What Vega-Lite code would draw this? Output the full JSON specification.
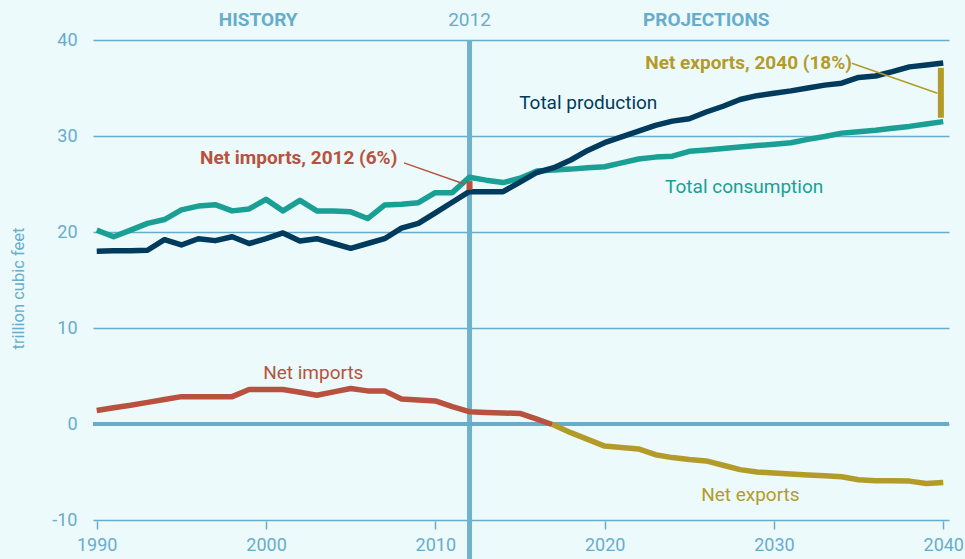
{
  "$schema": "https://vega.github.io/schema/vega-lite/v6.json",
  "width": 856,
  "height": 480,
  "autosize": "none",
  "padding": {"left": 93, "top": 40, "right": 16, "bottom": 39},
  "background": "#ecfafb",
  "config": {
    "view": {"stroke": null},
    "font": "Roboto",
    "axis": {"labelFont": "Roboto", "titleFont": "Roboto", "labelColor": "#68accb", "titleColor": "#68accb"}
  },
  "datasets": {
    "series": [
      {"year": 1990, "value": 20.2, "series": "Total consumption"},
      {"year": 1991, "value": 19.5, "series": "Total consumption"},
      {"year": 1992, "value": 20.2, "series": "Total consumption"},
      {"year": 1993, "value": 20.9, "series": "Total consumption"},
      {"year": 1994, "value": 21.3, "series": "Total consumption"},
      {"year": 1995, "value": 22.3, "series": "Total consumption"},
      {"year": 1996, "value": 22.7, "series": "Total consumption"},
      {"year": 1997, "value": 22.85, "series": "Total consumption"},
      {"year": 1998, "value": 22.2, "series": "Total consumption"},
      {"year": 1999, "value": 22.4, "series": "Total consumption"},
      {"year": 2000, "value": 23.4, "series": "Total consumption"},
      {"year": 2001, "value": 22.2, "series": "Total consumption"},
      {"year": 2002, "value": 23.3, "series": "Total consumption"},
      {"year": 2003, "value": 22.2, "series": "Total consumption"},
      {"year": 2004, "value": 22.2, "series": "Total consumption"},
      {"year": 2005, "value": 22.1, "series": "Total consumption"},
      {"year": 2006, "value": 21.4, "series": "Total consumption"},
      {"year": 2007, "value": 22.8, "series": "Total consumption"},
      {"year": 2008, "value": 22.9, "series": "Total consumption"},
      {"year": 2009, "value": 23.05, "series": "Total consumption"},
      {"year": 2010, "value": 24.1, "series": "Total consumption"},
      {"year": 2011, "value": 24.1, "series": "Total consumption"},
      {"year": 2012, "value": 25.7, "series": "Total consumption"},
      {"year": 2013, "value": 25.4, "series": "Total consumption"},
      {"year": 2014, "value": 25.15, "series": "Total consumption"},
      {"year": 2015, "value": 25.6, "series": "Total consumption"},
      {"year": 2016, "value": 26.35, "series": "Total consumption"},
      {"year": 2017, "value": 26.45, "series": "Total consumption"},
      {"year": 2018, "value": 26.55, "series": "Total consumption"},
      {"year": 2019, "value": 26.7, "series": "Total consumption"},
      {"year": 2020, "value": 26.8, "series": "Total consumption"},
      {"year": 2021, "value": 27.2, "series": "Total consumption"},
      {"year": 2022, "value": 27.6, "series": "Total consumption"},
      {"year": 2023, "value": 27.8, "series": "Total consumption"},
      {"year": 2024, "value": 27.9, "series": "Total consumption"},
      {"year": 2025, "value": 28.4, "series": "Total consumption"},
      {"year": 2026, "value": 28.55, "series": "Total consumption"},
      {"year": 2027, "value": 28.7, "series": "Total consumption"},
      {"year": 2028, "value": 28.85, "series": "Total consumption"},
      {"year": 2029, "value": 29.0, "series": "Total consumption"},
      {"year": 2030, "value": 29.15, "series": "Total consumption"},
      {"year": 2031, "value": 29.3, "series": "Total consumption"},
      {"year": 2032, "value": 29.65, "series": "Total consumption"},
      {"year": 2033, "value": 29.95, "series": "Total consumption"},
      {"year": 2034, "value": 30.3, "series": "Total consumption"},
      {"year": 2035, "value": 30.45, "series": "Total consumption"},
      {"year": 2036, "value": 30.6, "series": "Total consumption"},
      {"year": 2037, "value": 30.8, "series": "Total consumption"},
      {"year": 2038, "value": 31.0, "series": "Total consumption"},
      {"year": 2039, "value": 31.25, "series": "Total consumption"},
      {"year": 2040, "value": 31.5, "series": "Total consumption"},

      {"year": 1990, "value": 18.0, "series": "Total production"},
      {"year": 1991, "value": 18.05, "series": "Total production"},
      {"year": 1992, "value": 18.05, "series": "Total production"},
      {"year": 1993, "value": 18.1, "series": "Total production"},
      {"year": 1994, "value": 19.2, "series": "Total production"},
      {"year": 1995, "value": 18.65, "series": "Total production"},
      {"year": 1996, "value": 19.3, "series": "Total production"},
      {"year": 1997, "value": 19.1, "series": "Total production"},
      {"year": 1998, "value": 19.5, "series": "Total production"},
      {"year": 1999, "value": 18.8, "series": "Total production"},
      {"year": 2000, "value": 19.3, "series": "Total production"},
      {"year": 2001, "value": 19.9, "series": "Total production"},
      {"year": 2002, "value": 19.06, "series": "Total production"},
      {"year": 2003, "value": 19.3, "series": "Total production"},
      {"year": 2004, "value": 18.8, "series": "Total production"},
      {"year": 2005, "value": 18.3, "series": "Total production"},
      {"year": 2006, "value": 18.8, "series": "Total production"},
      {"year": 2007, "value": 19.3, "series": "Total production"},
      {"year": 2008, "value": 20.4, "series": "Total production"},
      {"year": 2009, "value": 20.9, "series": "Total production"},
      {"year": 2010, "value": 22.0, "series": "Total production"},
      {"year": 2011, "value": 23.1, "series": "Total production"},
      {"year": 2012, "value": 24.2, "series": "Total production"},
      {"year": 2013, "value": 24.2, "series": "Total production"},
      {"year": 2014, "value": 24.2, "series": "Total production"},
      {"year": 2015, "value": 25.2, "series": "Total production"},
      {"year": 2016, "value": 26.2, "series": "Total production"},
      {"year": 2017, "value": 26.7, "series": "Total production"},
      {"year": 2018, "value": 27.5, "series": "Total production"},
      {"year": 2019, "value": 28.5, "series": "Total production"},
      {"year": 2020, "value": 29.3, "series": "Total production"},
      {"year": 2021, "value": 29.9, "series": "Total production"},
      {"year": 2022, "value": 30.5, "series": "Total production"},
      {"year": 2023, "value": 31.1, "series": "Total production"},
      {"year": 2024, "value": 31.55, "series": "Total production"},
      {"year": 2025, "value": 31.8, "series": "Total production"},
      {"year": 2026, "value": 32.5, "series": "Total production"},
      {"year": 2027, "value": 33.1, "series": "Total production"},
      {"year": 2028, "value": 33.8, "series": "Total production"},
      {"year": 2029, "value": 34.2, "series": "Total production"},
      {"year": 2030, "value": 34.45, "series": "Total production"},
      {"year": 2031, "value": 34.7, "series": "Total production"},
      {"year": 2032, "value": 35.0, "series": "Total production"},
      {"year": 2033, "value": 35.3, "series": "Total production"},
      {"year": 2034, "value": 35.5, "series": "Total production"},
      {"year": 2035, "value": 36.1, "series": "Total production"},
      {"year": 2036, "value": 36.25, "series": "Total production"},
      {"year": 2037, "value": 36.7, "series": "Total production"},
      {"year": 2038, "value": 37.2, "series": "Total production"},
      {"year": 2039, "value": 37.4, "series": "Total production"},
      {"year": 2040, "value": 37.6, "series": "Total production"},

      {"year": 1990, "value": 1.4, "series": "Net imports"},
      {"year": 1991, "value": 1.7, "series": "Net imports"},
      {"year": 1992, "value": 1.95, "series": "Net imports"},
      {"year": 1993, "value": 2.25, "series": "Net imports"},
      {"year": 1994, "value": 2.55, "series": "Net imports"},
      {"year": 1995, "value": 2.85, "series": "Net imports"},
      {"year": 1996, "value": 2.85, "series": "Net imports"},
      {"year": 1997, "value": 2.85, "series": "Net imports"},
      {"year": 1998, "value": 2.85, "series": "Net imports"},
      {"year": 1999, "value": 3.6, "series": "Net imports"},
      {"year": 2000, "value": 3.6, "series": "Net imports"},
      {"year": 2001, "value": 3.6, "series": "Net imports"},
      {"year": 2002, "value": 3.3, "series": "Net imports"},
      {"year": 2003, "value": 3.0, "series": "Net imports"},
      {"year": 2004, "value": 3.35, "series": "Net imports"},
      {"year": 2005, "value": 3.7, "series": "Net imports"},
      {"year": 2006, "value": 3.45, "series": "Net imports"},
      {"year": 2007, "value": 3.45, "series": "Net imports"},
      {"year": 2008, "value": 2.6, "series": "Net imports"},
      {"year": 2009, "value": 2.5, "series": "Net imports"},
      {"year": 2010, "value": 2.4, "series": "Net imports"},
      {"year": 2011, "value": 1.8, "series": "Net imports"},
      {"year": 2012, "value": 1.28, "series": "Net imports"},
      {"year": 2013, "value": 1.2, "series": "Net imports"},
      {"year": 2014, "value": 1.15, "series": "Net imports"},
      {"year": 2015, "value": 1.1, "series": "Net imports"},
      {"year": 2016, "value": 0.5, "series": "Net imports"},
      {"year": 2016.9, "value": -0.05, "series": "Net imports"},

      {"year": 2016.9, "value": -0.05, "series": "Net exports"},
      {"year": 2017, "value": -0.1, "series": "Net exports"},
      {"year": 2018, "value": -0.9, "series": "Net exports"},
      {"year": 2019, "value": -1.6, "series": "Net exports"},
      {"year": 2020, "value": -2.3, "series": "Net exports"},
      {"year": 2021, "value": -2.45, "series": "Net exports"},
      {"year": 2022, "value": -2.6, "series": "Net exports"},
      {"year": 2023, "value": -3.2, "series": "Net exports"},
      {"year": 2024, "value": -3.5, "series": "Net exports"},
      {"year": 2025, "value": -3.7, "series": "Net exports"},
      {"year": 2026, "value": -3.85, "series": "Net exports"},
      {"year": 2027, "value": -4.3, "series": "Net exports"},
      {"year": 2028, "value": -4.75, "series": "Net exports"},
      {"year": 2029, "value": -5.0, "series": "Net exports"},
      {"year": 2030, "value": -5.1, "series": "Net exports"},
      {"year": 2031, "value": -5.2, "series": "Net exports"},
      {"year": 2032, "value": -5.3, "series": "Net exports"},
      {"year": 2033, "value": -5.4, "series": "Net exports"},
      {"year": 2034, "value": -5.5, "series": "Net exports"},
      {"year": 2035, "value": -5.8, "series": "Net exports"},
      {"year": 2036, "value": -5.9, "series": "Net exports"},
      {"year": 2037, "value": -5.9, "series": "Net exports"},
      {"year": 2038, "value": -5.95, "series": "Net exports"},
      {"year": 2039, "value": -6.2, "series": "Net exports"},
      {"year": 2040, "value": -6.1, "series": "Net exports"}
    ]
  },
  "layer": [
    {
      "data": {"values": [{"year": 2012.02, "top": 40, "bottom": -14.2}]},
      "mark": {"type": "rule", "color": "#70b1cc", "strokeWidth": 5, "clip": false},
      "encoding": {
        "x": {"field": "year", "type": "quantitative", "scale": {"domain": [1989.78, 2040.34], "nice": false, "zero": false},
          "axis": {"values": [1990, 2000, 2010, 2020, 2030, 2040], "format": "d", "title": null, "domain": false, "grid": false,
            "ticks": true, "tickSize": 8, "tickWidth": 1.5, "tickColor": "#68accb", "offset": 1, "labelPadding": 7, "labelFontSize": 18}},
        "y": {"field": "top", "type": "quantitative", "scale": {"domain": [-10, 40], "nice": false, "zero": false},
          "axis": {"values": [-10, 0, 10, 20, 30, 40], "labelExpr": "'' + datum.value", "title": "trillion cubic feet", "titleFontSize": 16.5, "titleFontWeight": "normal",
            "titleX": -75, "titleY": 248, "titleAngle": -90, "titleAlign": "center", "titleBaseline": "middle",
            "domain": false, "ticks": false, "tickSize": 0, "labelPadding": 16, "labelFontSize": 18,
            "grid": true, "gridColor": "#68accb", "gridWidth": 1.5}},
        "y2": {"field": "bottom"}
      }
    },
    {
      "data": {"values": [{"v": 0}]},
      "mark": {"type": "rule", "color": "#68accb", "strokeWidth": 4},
      "encoding": {"y": {"field": "v", "type": "quantitative"}}
    },
    {
      "data": {"name": "series"},
      "mark": {"type": "line", "strokeWidth": 5.5, "strokeJoin": "round"},
      "encoding": {
        "x": {"field": "year", "type": "quantitative"},
        "y": {"field": "value", "type": "quantitative"},
        "detail": {"field": "series"},
        "order": {"field": "year", "type": "quantitative"},
        "color": {"field": "series", "type": "nominal", "legend": null,
          "scale": {"domain": ["Total consumption", "Total production", "Net imports", "Net exports"],
            "range": ["#1a9f95", "#003a5d", "#b8523e", "#b39b2a"]}}
      }
    },
    {
      "data": {"values": [
        {"year": 2012.02, "lo": 24.4, "hi": 25.3, "series": "Net imports"},
        {"year": 2039.86, "lo": 31.9, "hi": 37.1, "series": "Net exports"}
      ]},
      "mark": {"type": "rule", "strokeWidth": 6},
      "encoding": {
        "x": {"field": "year", "type": "quantitative"},
        "y": {"field": "lo", "type": "quantitative"},
        "y2": {"field": "hi"},
        "color": {"field": "series", "type": "nominal", "legend": null}
      }
    },
    {
      "data": {"values": [
        {"x1": 2008.15, "y1": 27.2, "x2": 2011.75, "y2": 24.97, "series": "Net imports"},
        {"x1": 2034.6, "y1": 37.57, "x2": 2039.66, "y2": 34.45, "series": "Net exports"}
      ]},
      "mark": {"type": "rule", "strokeWidth": 1.5},
      "encoding": {
        "x": {"field": "x1", "type": "quantitative"},
        "y": {"field": "y1", "type": "quantitative"},
        "x2": {"field": "x2"},
        "y2": {"field": "y2"},
        "color": {"field": "series", "type": "nominal", "legend": null}
      }
    },
    {
      "data": {"values": [
        {"year": 1999.54, "value": 42.1, "label": "HISTORY"},
        {"year": 2026.0, "value": 42.1, "label": "PROJECTIONS"}
      ]},
      "mark": {"type": "text", "font": "Roboto", "fontSize": 19, "fontWeight": "bold", "color": "#68accb", "align": "center", "baseline": "middle", "clip": false},
      "encoding": {
        "x": {"field": "year", "type": "quantitative"},
        "y": {"field": "value", "type": "quantitative"},
        "text": {"field": "label"}
      }
    },
    {
      "data": {"values": [{"year": 2012.02, "value": 42.1, "label": "2012"}]},
      "mark": {"type": "text", "font": "Roboto", "fontSize": 19, "color": "#68accb", "align": "center", "baseline": "middle", "clip": false},
      "encoding": {
        "x": {"field": "year", "type": "quantitative"},
        "y": {"field": "value", "type": "quantitative"},
        "text": {"field": "label"}
      }
    },
    {
      "data": {"values": [
        {"year": 2014.95, "value": 33.44, "label": "Total production", "series": "Total production"},
        {"year": 2023.57, "value": 24.69, "label": "Total consumption", "series": "Total consumption"},
        {"year": 1999.83, "value": 5.31, "label": "Net imports", "series": "Net imports"},
        {"year": 2025.7, "value": -7.4, "label": "Net exports", "series": "Net exports"}
      ]},
      "mark": {"type": "text", "font": "Roboto", "fontSize": 19, "align": "left", "baseline": "middle"},
      "encoding": {
        "x": {"field": "year", "type": "quantitative"},
        "y": {"field": "value", "type": "quantitative"},
        "text": {"field": "label"},
        "color": {"field": "series", "type": "nominal", "legend": null}
      }
    },
    {
      "data": {"values": [
        {"year": 1996.1, "value": 27.7, "label": "Net imports, 2012 (6%)", "series": "Net imports"},
        {"year": 2022.4, "value": 37.6, "label": "Net exports, 2040 (18%)", "series": "Net exports"}
      ]},
      "mark": {"type": "text", "font": "Roboto", "fontSize": 19, "fontWeight": "bold", "align": "left", "baseline": "middle"},
      "encoding": {
        "x": {"field": "year", "type": "quantitative"},
        "y": {"field": "value", "type": "quantitative"},
        "text": {"field": "label"},
        "color": {"field": "series", "type": "nominal", "legend": null}
      }
    }
  ]
}
